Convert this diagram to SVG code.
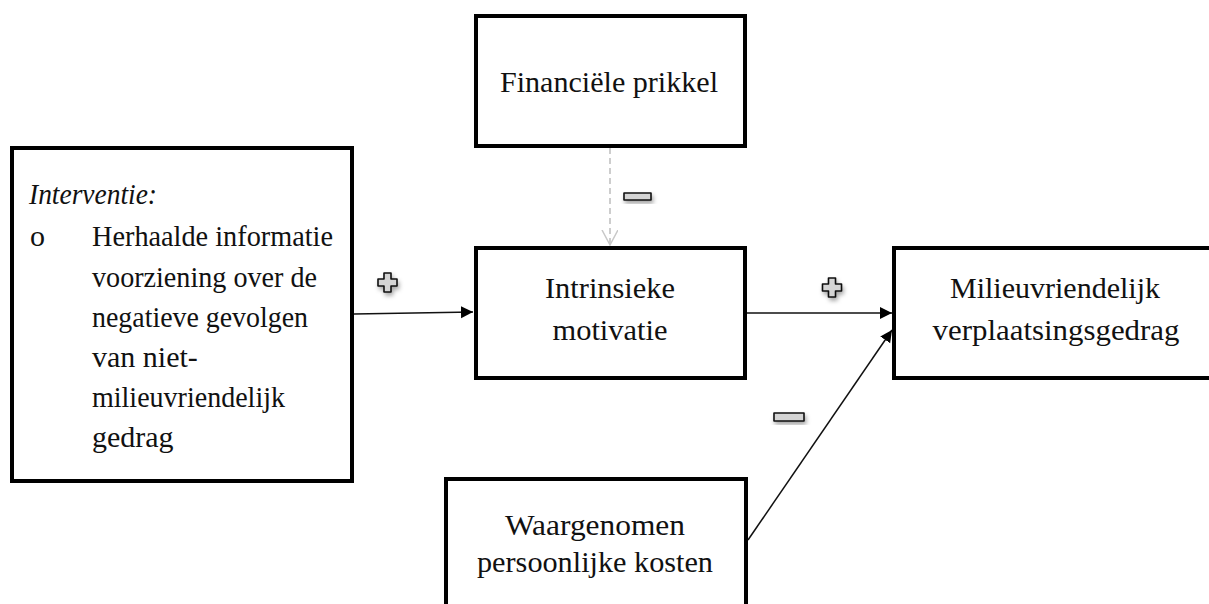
<svg xmlns="http://www.w3.org/2000/svg" width="1209" height="604" viewBox="0 0 1209 604">
<style>
.box{fill:#fff;stroke:#000;stroke-width:4}
.t{font-family:"Liberation Serif","Times New Roman",serif;font-size:30px;fill:#111}
.c{text-anchor:middle}
.ln{stroke:#111;stroke-width:1.5;fill:none}
.dash{stroke:#c8c8c8;stroke-width:1.8;fill:none;stroke-dasharray:6 4}
.sym{fill:#d4d4d4;stroke:#111;stroke-width:1.6;stroke-linejoin:round}
</style>
<defs>
<marker id="ah" markerWidth="14" markerHeight="14" refX="12" refY="6" orient="auto" markerUnits="userSpaceOnUse">
<path d="M0,0 L12,6 L0,12 Z" fill="#000"/>
</marker>
<marker id="av" markerWidth="20" markerHeight="20" refX="15" refY="8" orient="auto" markerUnits="userSpaceOnUse">
<path d="M0,0 L15,8 L0,16" fill="none" stroke="#c8c8c8" stroke-width="1.5"/>
</marker>
<filter id="sh" x="-50%" y="-50%" width="200%" height="200%">
<feDropShadow dx="1.5" dy="3" stdDeviation="2" flood-color="#000" flood-opacity="0.35"/>
</filter>
<path id="plus" d="M-3.5,-9.5 h7 v6 h6 v7 h-6 v6 h-7 v-6 h-6 v-7 h6 Z"/>
</defs>
<rect width="1209" height="604" fill="#fff"/>

<g id="connectors">
<line class="ln" x1="354" y1="314" x2="473" y2="312" marker-end="url(#ah)"/>
<line class="ln" x1="747" y1="313" x2="892" y2="313" marker-end="url(#ah)"/>
<line class="ln" x1="748" y1="540" x2="892" y2="330" marker-end="url(#ah)"/>
<line class="dash" x1="610" y1="148" x2="610" y2="245" marker-end="url(#av)"/>
<use href="#plus" class="sym" filter="url(#sh)" x="387.5" y="282.5"/>
<use href="#plus" class="sym" filter="url(#sh)" x="832" y="287.5"/>
<rect class="sym" filter="url(#sh)" x="624" y="193" width="27" height="7"/>
<rect class="sym" filter="url(#sh)" x="774" y="413" width="30" height="8"/>
</g>

<g id="node-interventie">
<rect class="box" x="12" y="148" width="340" height="333"/>
<text class="t" x="29" y="204" font-style="italic" textLength="128" lengthAdjust="spacingAndGlyphs">Interventie:</text>
<text class="t" x="30" y="246" font-size="22">o</text>
<text class="t" x="92" y="246" textLength="241" lengthAdjust="spacingAndGlyphs">Herhaalde informatie</text>
<text class="t" x="92" y="287" textLength="225" lengthAdjust="spacingAndGlyphs">voorziening over de</text>
<text class="t" x="92" y="327" textLength="216" lengthAdjust="spacingAndGlyphs">negatieve gevolgen</text>
<text class="t" x="92" y="367">van niet-</text>
<text class="t" x="92" y="407" textLength="193" lengthAdjust="spacingAndGlyphs">milieuvriendelijk</text>
<text class="t" x="92" y="447">gedrag</text>
</g>

<g id="node-financiele">
<rect class="box" x="476" y="16" width="269" height="130"/>
<text class="t c" x="609" y="92" textLength="218" lengthAdjust="spacingAndGlyphs">Financiële prikkel</text>
</g>

<g id="node-intrinsiek">
<rect class="box" x="476" y="248" width="269" height="130"/>
<text class="t c" x="610" y="298" textLength="130" lengthAdjust="spacingAndGlyphs">Intrinsieke</text>
<text class="t c" x="610" y="340" textLength="115" lengthAdjust="spacingAndGlyphs">motivatie</text>
</g>

<g id="node-milieu">
<rect class="box" x="894" y="248" width="340" height="130"/>
<text class="t c" x="1055" y="298" textLength="210" lengthAdjust="spacingAndGlyphs">Milieuvriendelijk</text>
<text class="t c" x="1056" y="340" textLength="247" lengthAdjust="spacingAndGlyphs">verplaatsingsgedrag</text>
</g>

<g id="node-kosten">
<rect class="box" x="446" y="479" width="300" height="150"/>
<text class="t c" x="595" y="535" textLength="180" lengthAdjust="spacingAndGlyphs">Waargenomen</text>
<text class="t c" x="595" y="572" textLength="236" lengthAdjust="spacingAndGlyphs">persoonlijke kosten</text>
</g>
</svg>
